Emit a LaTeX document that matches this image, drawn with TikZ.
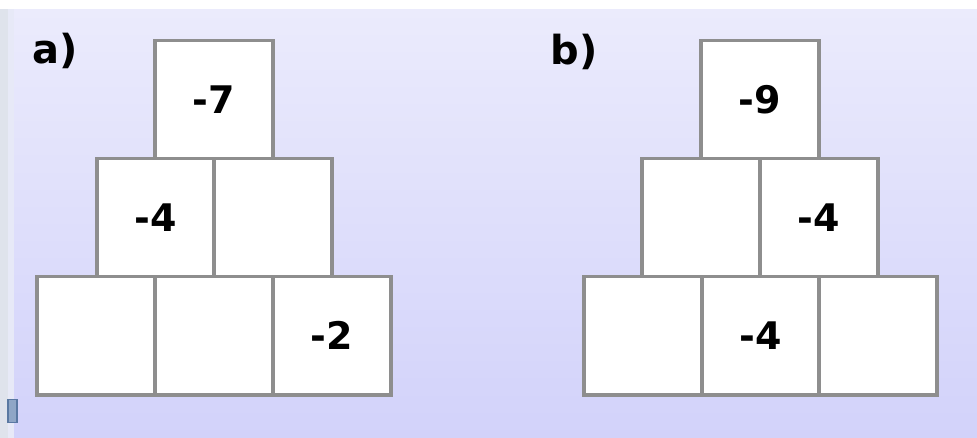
\documentclass[tikz,border=0pt]{standalone}
\usepackage{fontspec}
\setmainfont{DejaVu Sans}
\definecolor{bgtop}{HTML}{EBEBFC}
\definecolor{bgbot}{HTML}{D2D2FA}
\definecolor{gridline}{HTML}{8E8E8E}
\definecolor{leftstrip}{HTML}{DFE3EC}
\definecolor{markfill}{HTML}{8FA6C6}
\definecolor{markedge}{HTML}{5A78A2}
\tikzset{
  cell/.style={draw=gridline, fill=white, line width=3.5pt, minimum width=118pt,
    minimum height=118pt, inner sep=0pt, anchor=north west,
    font=\fontsize{38}{40}\selectfont\bfseries},
  partlabel/.style={font=\fontsize{40}{42}\selectfont\bfseries, inner sep=0pt}
}
\begin{document}
\begin{tikzpicture}[x=1pt,y=-1pt]
  \useasboundingbox (0,0) rectangle (977,438);
  % page background
  \shade[top color=bgtop, bottom color=bgbot] (0,9) rectangle (977,438);
  \fill[white] (0,0) rectangle (977,9);
  \fill[leftstrip] (0,9) rectangle (8,438);
  \fill[bgtop!70!leftstrip] (8,9) rectangle (14,438);
  \node[draw=markedge, fill=markfill, line width=1.8pt, minimum width=9pt,
    minimum height=23pt, inner sep=0pt] (marker) at (12.5,411) {};

  % pyramid a
  \node[partlabel] (la) at (55,51) {a)};
  \node[cell] (a1) at (35,275) {};
  \node[cell] (a2) at (153,275) {};
  \node[cell] (a3) at (271,275) {-2};
  \node[cell] (a4) at (95,157) {-4};
  \node[cell] (a5) at (212,157) {};
  \node[cell] (a6) at (153,39) {-7};

  % pyramid b
  \node[partlabel] (lb) at (574,52) {b)};
  \node[cell] (b1) at (582,275) {};
  \node[cell] (b2) at (700,275) {-4};
  \node[cell] (b3) at (817,275) {};
  \node[cell] (b4) at (640,157) {};
  \node[cell] (b5) at (758,157) {-4};
  \node[cell] (b6) at (699,39) {-9};
\end{tikzpicture}
\end{document}
